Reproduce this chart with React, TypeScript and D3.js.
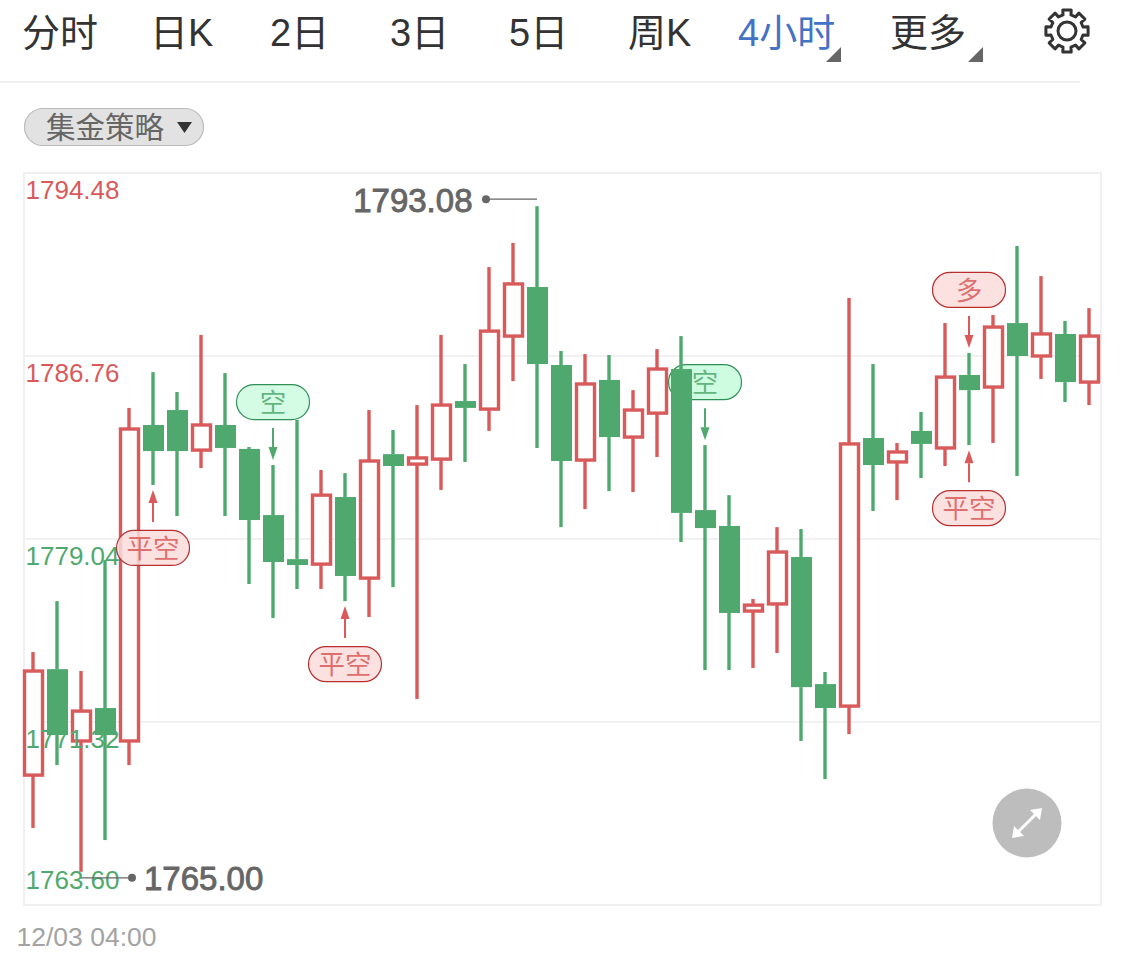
import React from "react";
import * as d3 from "d3";

const opens = [1769.08,1773.55,1770.52,1771.91,1770.52,1783.85,1784.48,1782.79,1783.85,1782.84,1780.05,1778.19,1777.98,1780.81,1777.39,1782.62,1782.20,1782.41,1784.86,1784.52,1787.60,1789.67,1786.38,1782.37,1785.75,1783.34,1784.35,1786.21,1780.26,1779.59,1776.00,1776.30,1778.28,1772.92,1771.99,1783.30,1782.29,1783.60,1782.88,1785.96,1785.45,1788.15,1786.76,1787.69,1785.66];
const closes = [1773.47,1770.77,1771.78,1770.77,1783.68,1782.75,1782.75,1783.85,1782.88,1779.84,1778.07,1777.94,1780.89,1777.48,1782.33,1782.12,1782.46,1784.69,1784.57,1787.81,1789.80,1786.42,1782.33,1785.58,1783.34,1784.48,1786.21,1780.14,1779.50,1775.92,1776.25,1778.49,1772.79,1771.91,1783.05,1782.16,1782.71,1783.05,1785.87,1785.32,1787.98,1786.76,1787.69,1785.66,1787.60];
const highs = [1774.27,1776.42,1773.47,1778.15,1784.57,1786.08,1785.24,1787.65,1786.04,1782.92,1782.16,1784.06,1781.95,1781.82,1784.48,1783.64,1784.69,1787.65,1786.42,1790.51,1791.53,1793.08,1786.97,1786.84,1786.80,1785.32,1787.05,1787.60,1783.00,1780.89,1776.51,1779.54,1779.46,1773.43,1789.21,1786.42,1783.09,1784.40,1788.15,1786.89,1788.49,1791.40,1790.13,1788.24,1788.78];
const lows = [1766.85,1769.50,1765.00,1766.34,1769.50,1781.32,1780.01,1782.03,1780.01,1777.14,1775.71,1776.93,1776.93,1776.42,1775.75,1777.01,1772.29,1781.11,1782.29,1783.60,1785.70,1782.88,1779.54,1780.30,1781.06,1781.02,1782.50,1778.91,1773.51,1773.51,1773.60,1774.23,1770.52,1768.91,1770.81,1780.22,1780.68,1781.61,1782.12,1783.00,1783.09,1781.70,1785.79,1784.82,1784.69];

const priceTicks = [1794.48, 1786.76, 1779.04, 1771.32, 1763.6];
const tabs = ["分时", "日K", "2日", "3日", "5日", "周K", "4小时", "更多"];
const tabStarts = [22, 150, 270, 390, 509, 628, 738, 890];
const activeTab = "4小时";
const strategyLabel = "集金策略";
const dateLabel = "12/03 04:00";
const maxIndex = 21;
const minIndex = 2;

type Signal = { index: number; text: string; side: "above" | "below"; kind: "red" | "green"; under?: boolean };
const signals: Signal[] = [
  { index: 5, text: "平空", side: "below", kind: "red" },
  { index: 10, text: "空", side: "above", kind: "green" },
  { index: 13, text: "平空", side: "below", kind: "red" },
  { index: 28, text: "空", side: "above", kind: "green", under: true },
  { index: 39, text: "多", side: "above", kind: "red" },
  { index: 39, text: "平空", side: "below", kind: "red" },
];

const RED = "#d95a5a";
const GREEN = "#4fa96e";
const FONT = "'Liberation Sans','Noto Sans CJK SC',sans-serif";

const left = 24, right = 1101, top = 173, bottom = 905;
const y = d3.scaleLinear().domain([1763.6, 1794.48]).range([bottom, top]);
const x = d3.scaleLinear().domain([0, opens.length - 1]).range([33, 1089]);

function gearPath(cx: number, cy: number) {
  const pts: [number, number][] = [];
  const teeth = 8;
  for (let i = 0; i < teeth; i++) {
    const a = (i / teeth) * Math.PI * 2;
    const s = Math.PI / teeth;
    pts.push([a - s * 0.5, 21.5], [a + s * 0.5, 21.5], [a + s * 0.62, 16.5], [a + s * 1.38, 16.5]);
  }
  const line = d3.lineRadial().curve(d3.curveLinearClosed);
  return { d: line(pts) as string, transform: `translate(${cx},${cy})` };
}

function SignalMark({ s }: { s: Signal }) {
  const cx = x(s.index);
  const color = s.kind === "red" ? RED : GREEN;
  const border = s.kind === "red" ? "#b92f2f" : "#2f8f57";
  const fill = s.kind === "red" ? "#fbdcdc" : "#cdfce0";
  const dir = s.side === "above" ? 1 : -1;
  const tip = s.side === "above" ? y(highs[s.index]) - 5 : y(lows[s.index]) + 5;
  const base = tip - dir * 32;
  const neck = tip - dir * 13;
  const bubbleCy = base - dir * 26;
  return (
    <g>
      <line x1={cx} x2={cx} y1={base} y2={neck} stroke={color} strokeWidth={2} />
      <path d={`M${cx},${tip}L${cx - 4.5},${neck}L${cx + 4.5},${neck}Z`} fill={color} />
      <rect x={cx - 36.5} y={bubbleCy - 17.5} width={73} height={35} rx={17.5} fill={fill} fillOpacity={s.under ? 1 : 0.85} stroke={border} strokeWidth={1.2} />
      <text x={cx} y={bubbleCy + 10} textAnchor="middle" fontSize={26.5} fill={color} fillOpacity={0.85} fontFamily={FONT}>{s.text}</text>
    </g>
  );
}

export default function App() {
  const gear = gearPath(1067, 31);
  return (
    <svg width={1125} height={971} style={{ position: "absolute", left: 0, top: 0, background: "#fff" }} fontFamily={FONT}>
      {tabs.map((t, i) => (
        <text key={t} x={tabStarts[i]} y={45.5} fontSize={38} fill={t === activeTab ? "#4472c4" : "#333"}>{t}</text>
      ))}
      <path d="M841,47L841,62L826,62Z" fill="#666" />
      <path d="M983,47L983,62L968,62Z" fill="#666" />
      <g transform={gear.transform} fill="none" stroke="#333" strokeWidth={3} strokeLinejoin="round">
        <path d={gear.d} />
        <circle r={9} />
      </g>
      <line x1={0} x2={1080} y1={82} y2={82} stroke="#f0f0f0" strokeWidth={2} />

      <rect x={24.5} y={108.5} width={179} height={37} rx={18.5} fill="#e2e2e2" stroke="#bbb" strokeWidth={1.2} />
      <text x={46} y={138} fontSize={29.5} fill="#666">{strategyLabel}</text>
      <path d="M177,122L192,122L184.5,133Z" fill="#333" />

      <rect x={left} y={top} width={right - left} height={bottom - top} fill="none" stroke="#f0f0f0" strokeWidth={2} />
      {priceTicks.slice(1, -1).map((p) => (
        <line key={p} x1={left} x2={right} y1={y(p)} y2={y(p)} stroke="#f1f1f1" strokeWidth={2} />
      ))}

      {signals.filter((s) => s.under).map((s, i) => <SignalMark key={i} s={s} />)}

      {opens.map((o, i) => {
        const c = closes[i];
        const up = c >= o;
        const color = up ? RED : GREEN;
        const yTop = y(Math.max(o, c));
        const yBot = y(Math.min(o, c));
        const cx = x(i);
        return (
          <g key={i}>
            <line x1={cx} x2={cx} y1={y(highs[i])} y2={yTop} stroke={color} strokeWidth={3.4} />
            <line x1={cx} x2={cx} y1={yBot} y2={y(lows[i])} stroke={color} strokeWidth={3.4} />
            {up ? (
              <rect x={cx - 8.5} y={yTop} width={18} height={yBot - yTop} fill="#fff" stroke={color} strokeWidth={3.4} />
            ) : (
              <rect x={cx - 10} y={yTop} width={21} height={Math.max(yBot - yTop, 1)} fill={color} />
            )}
          </g>
        );
      })}

      {signals.filter((s) => !s.under).map((s, i) => <SignalMark key={i} s={s} />)}

      {priceTicks.map((p, i) => {
        const baseline = i === priceTicks.length - 1 ? y(p) - 16 : y(p) + 26;
        return (
          <text key={p} x={25.5} y={baseline} fontSize={26} fill={p > 1782 ? RED : GREEN}>{p.toFixed(2)}</text>
        );
      })}

      <line x1={x(maxIndex)} x2={486} y1={y(highs[maxIndex]) - 7} y2={y(highs[maxIndex]) - 7} stroke="#666" strokeWidth={1.2} />
      <circle cx={486} cy={y(highs[maxIndex]) - 7} r={4} fill="#666" />
      <text x={472.5} y={y(highs[maxIndex]) + 6} textAnchor="end" fontSize={33} fill="#666" stroke="#666" strokeWidth={0.9}>{highs[maxIndex].toFixed(2)}</text>

      <line x1={x(minIndex)} x2={132} y1={y(lows[minIndex]) + 6} y2={y(lows[minIndex]) + 6} stroke="#666" strokeWidth={1.2} />
      <circle cx={132} cy={y(lows[minIndex]) + 6} r={4} fill="#666" />
      <text x={144} y={y(lows[minIndex]) + 18} fontSize={33} fill="#666" stroke="#666" strokeWidth={0.9}>{lows[minIndex].toFixed(2)}</text>

      <text x={16.5} y={946} fontSize={26.5} fill="#a3a3a3">{dateLabel}</text>

      <circle cx={1027} cy={823} r={34.5} fill="#bdbdbd" />
      <g fill="#fff">
        <line x1={1018} y1={832} x2={1036} y2={814} stroke="#fff" strokeWidth={3} />
        <path d="M1042,808L1040,820L1030,810Z" />
        <path d="M1012,838L1014,826L1024,836Z" />
      </g>
    </svg>
  );
}
